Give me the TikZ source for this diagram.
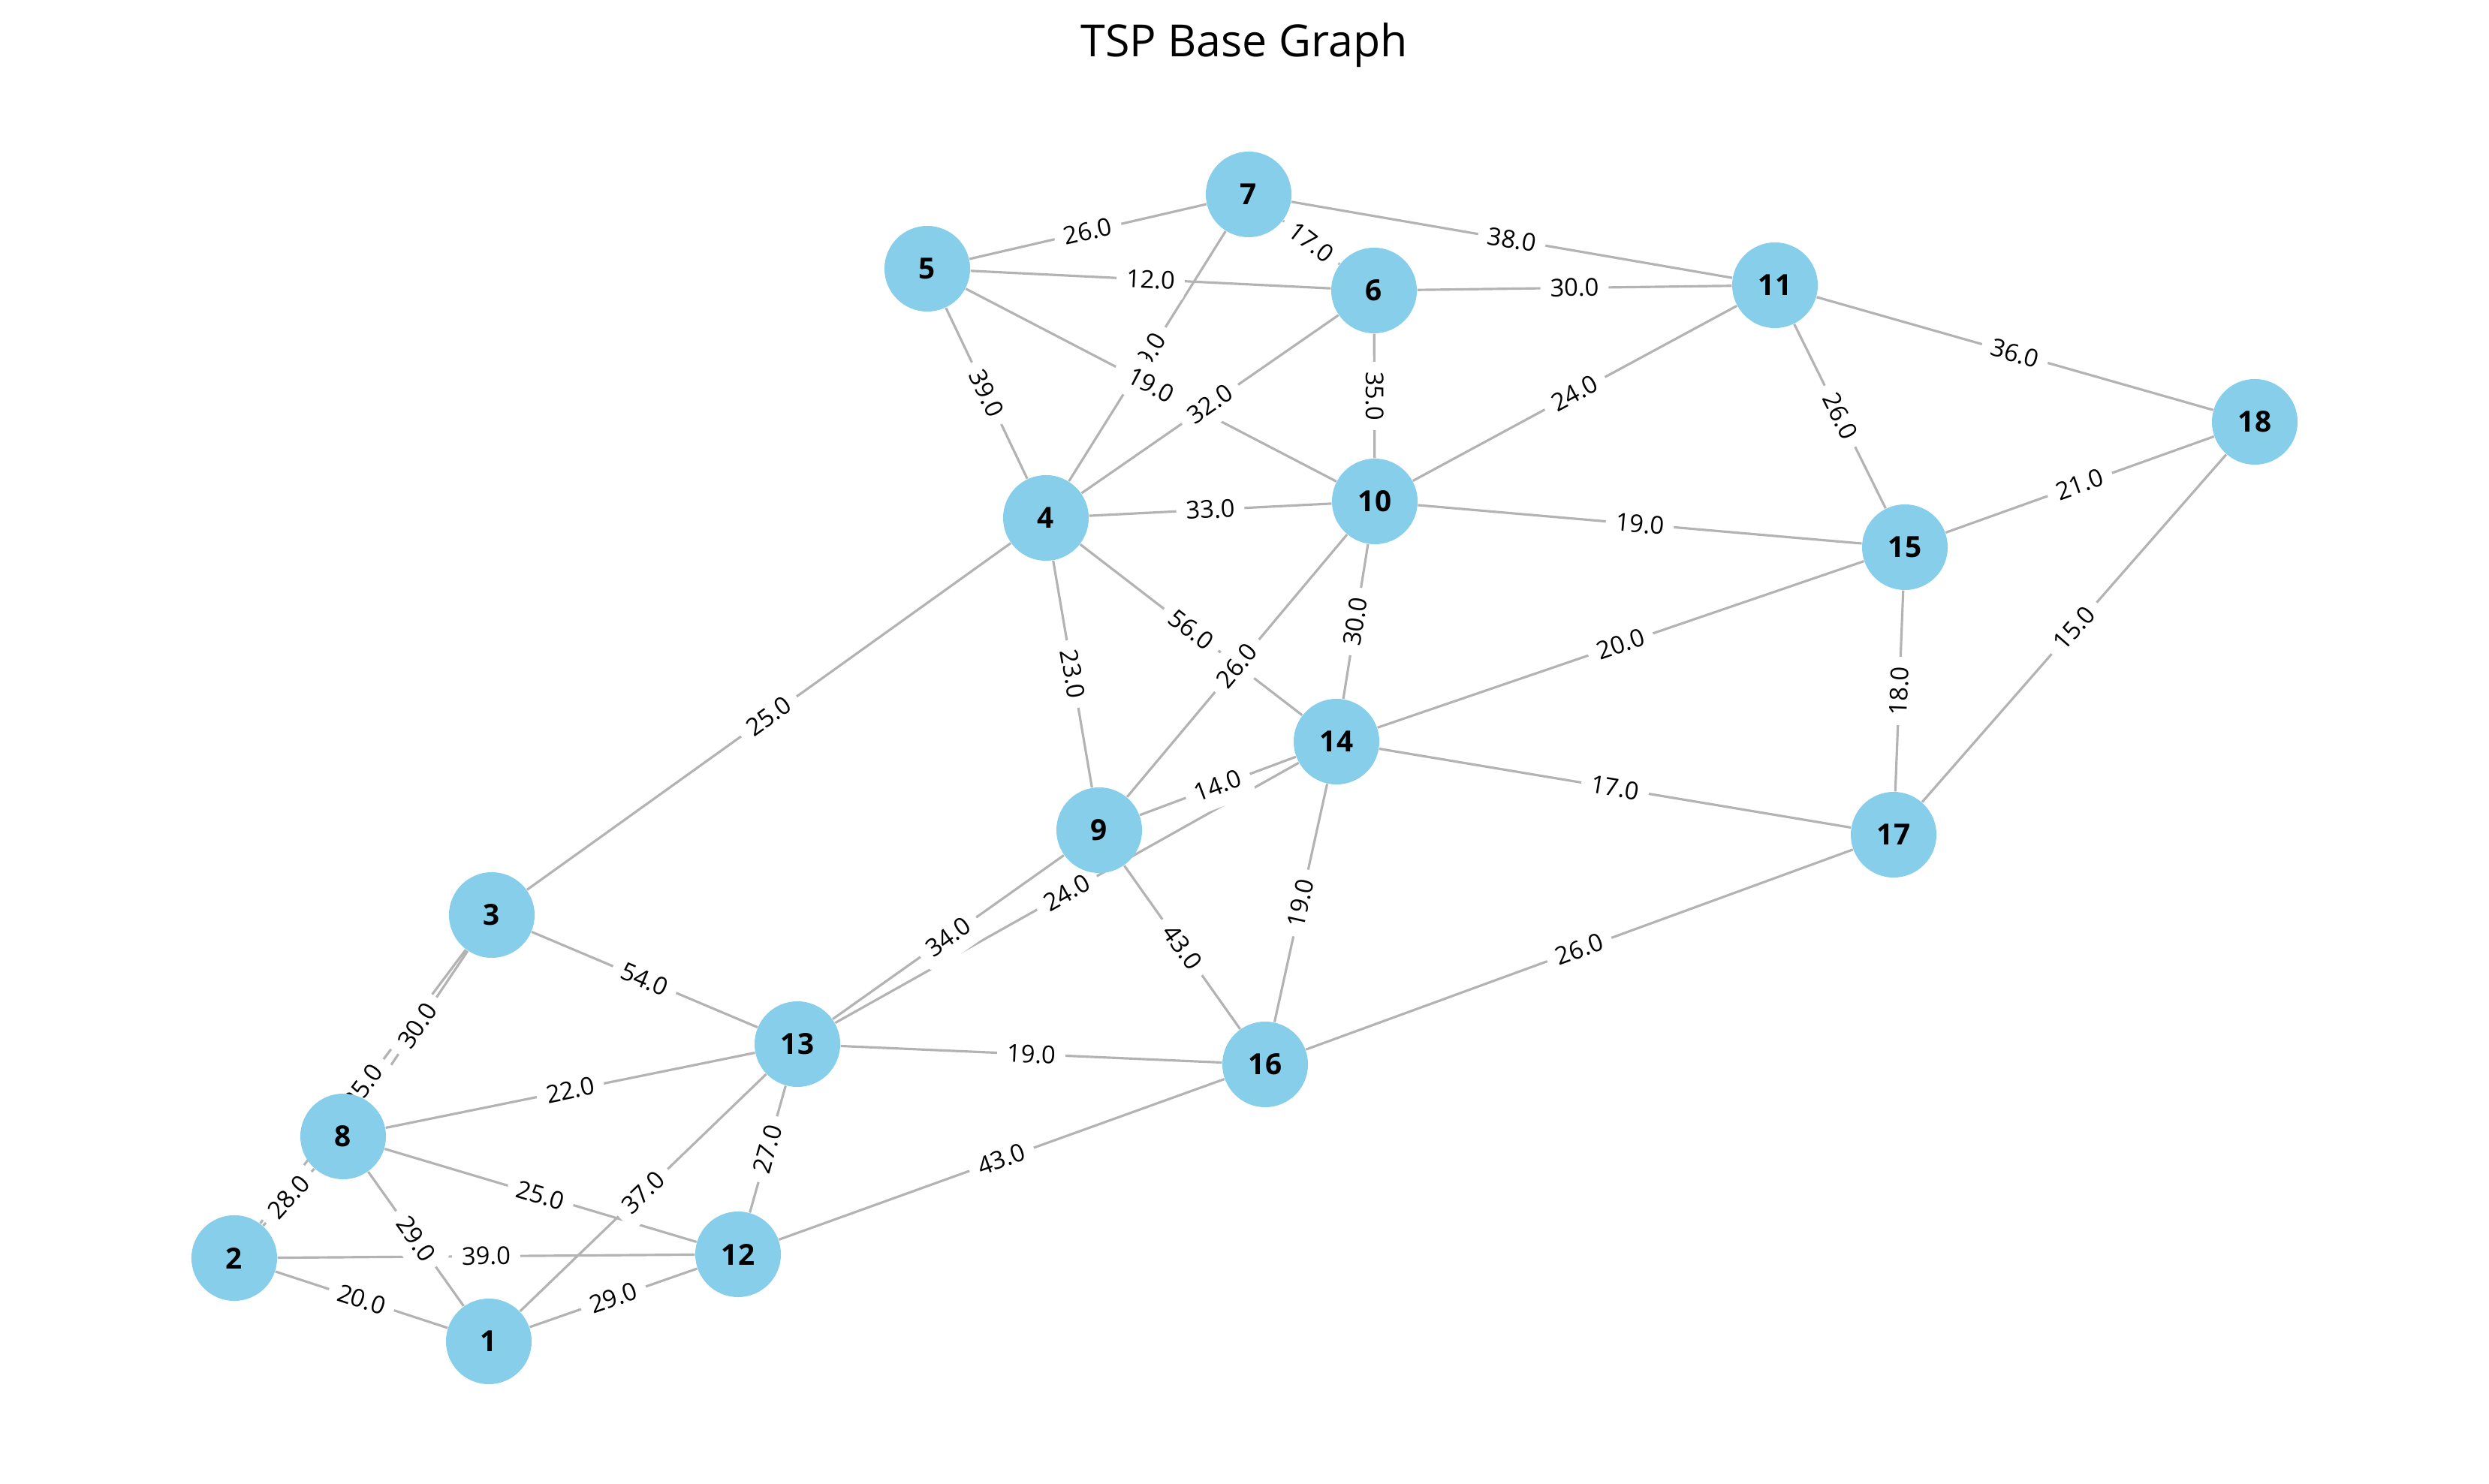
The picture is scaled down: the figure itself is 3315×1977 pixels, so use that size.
\documentclass[tikz,border=0pt]{standalone}
\usepackage{fontspec}
\setmainfont{Open Sans}
\definecolor{cityblue}{HTML}{87CEEB}
\definecolor{roadgray}{HTML}{B3B3B3}
\pgfdeclarelayer{roads}
\pgfsetlayers{roads,main}
\begin{document}
\begin{tikzpicture}
    [
    x=0.01cm,y=-0.01cm,
    city/.style={circle,fill=cityblue,inner sep=0pt,minimum size=1.14cm,font=\fontsize{11}{13}\selectfont\bfseries},
    road/.style={draw=roadgray,line width=0.9pt},
    weight/.style={sloped,fill=white,rounded corners=3pt,inner xsep=0.13cm,inner ysep=0.1cm,text height=1.55ex,text depth=0.35ex,font=\fontsize{9.3}{11}\selectfont}
    ]
    \useasboundingbox (0,0) rectangle (3315,1977);
    \node (title) at (1657,76) [anchor=base,font=\fontsize{16.8}{20}\selectfont] {TSP Base Graph};
    \node (1) at (651,1787) [city] {1};
    \node (2) at (312,1676) [city] {2};
    \node (3) at (655,1219) [city] {3};
    \node (4) at (1393,690) [city] {4};
    \node (5) at (1235,358) [city] {5};
    \node (6) at (1830,387) [city] {6};
    \node (7) at (1663,259) [city] {7};
    \node (8) at (457,1514) [city] {8};
    \node (9) at (1464,1106) [city] {9};
    \node (10) at (1831,668) [city] {10};
    \node (11) at (2364,380) [city] {11};
    \node (12) at (983,1671) [city] {12};
    \node (13) at (1062,1391) [city] {13};
    \node (14) at (1780,988) [city] {14};
    \node (15) at (2537,729) [city] {15};
    \node (16) at (1685,1418) [city] {16};
    \node (17) at (2522,1112) [city] {17};
    \node (18) at (3003,562) [city] {18};
    % roads first, then the weights on top of them, cities over all
    \begin{pgfonlayer}{roads}
    \path [road]
      (1) -- node [weight] {20.0} (2)
      (1) -- node [weight] {29.0} (8)
      (1) -- node [weight] {29.0} (12)
      (1) -- node [weight] {37.0} (13)
      (2) -- node [weight] {39.0} (12)
      (2) -- node [weight] {28.0} (8)
      (3) -- node [weight] {25.0} (2)
      (3) -- node [weight] {30.0} (8)
      (3) -- node [weight] {54.0} (13)
      (3) -- node [weight] {25.0} (4)
      (4) -- node [weight] {39.0} (5)
      (4) -- node [weight] {29.0} (7)
      (4) -- node [weight] {32.0} (6)
      (4) -- node [weight] {33.0} (10)
      (4) -- node [weight] {56.0} (14)
      (4) -- node [weight] {23.0} (9)
      (5) -- node [weight] {26.0} (7)
      (5) -- node [weight] {12.0} (6)
      (5) -- node [weight] {19.0} (10)
      (7) -- node [weight] {17.0} (6)
      (7) -- node [weight] {38.0} (11)
      (6) -- node [weight] {30.0} (11)
      (6) -- node [weight] {35.0} (10)
      (10) -- node [weight] {24.0} (11)
      (10) -- node [weight] {19.0} (15)
      (10) -- node [weight] {30.0} (14)
      (10) -- node [weight] {26.0} (9)
      (11) -- node [weight] {26.0} (15)
      (11) -- node [weight] {36.0} (18)
      (15) -- node [weight] {21.0} (18)
      (15) -- node [weight] {20.0} (14)
      (15) -- node [weight] {18.0} (17)
      (18) -- node [weight] {15.0} (17)
      (14) -- node [weight] {17.0} (17)
      (14) -- node [weight] {19.0} (16)
      (9) -- node [weight] {14.0} (14)
      (9) -- node [weight] {34.0} (13)
      (9) -- node [weight] {43.0} (16)
      (13) -- node [weight] {24.0} (14)
      (13) -- node [weight] {22.0} (8)
      (13) -- node [weight] {19.0} (16)
      (13) -- node [weight] {27.0} (12)
      (16) -- node [weight] {26.0} (17)
      (16) -- node [weight] {43.0} (12)
      (12) -- node [weight] {25.0} (8);
    \end{pgfonlayer}
\end{tikzpicture}
\end{document}
